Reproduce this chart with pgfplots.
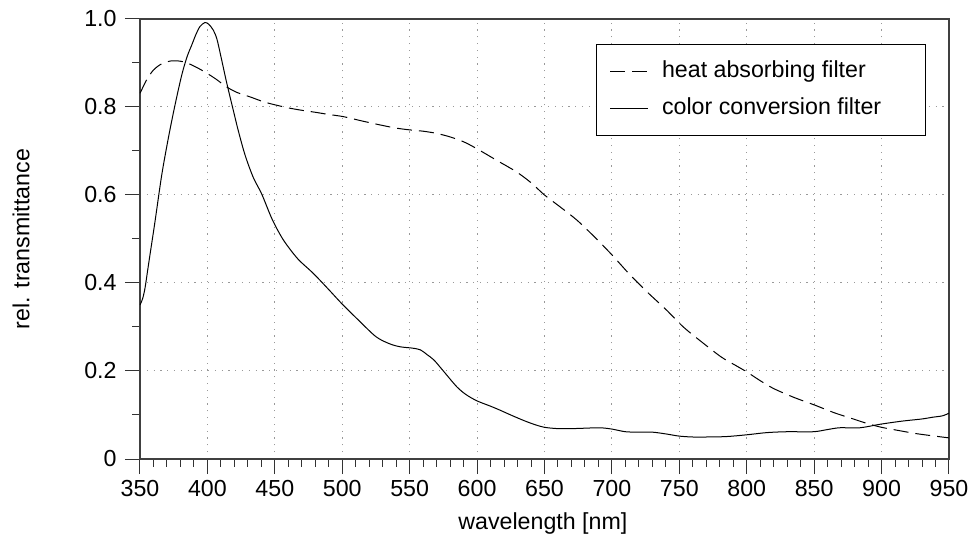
\documentclass[border=0pt]{standalone}
\usepackage{pgfplots}
\pgfplotsset{compat=1.18}
\usepackage{fontspec}
\setmainfont{Liberation Sans}

\begin{document}
\fontsize{11.6bp}{13.9bp}\selectfont
\begin{tikzpicture}
\begin{axis}[
  scale only axis,
  width=404.5bp, height=220bp,
  xmin=350, xmax=950, ymin=0, ymax=1,
  xtick={350,400,...,950},
  ytick={0,0.2,0.4,0.6,0.8,1.0},
  yticklabels={0,0.2,0.4,0.6,0.8,1.0},
  minor x tick num=4,
  minor y tick num=1,
  tick align=outside,
  tick pos=left,
  major tick length=7.5bp,
  minor tick length=3.8bp,
  every tick/.style={black!80, line width=0.5bp},
  axis line style={black!75, line width=0.6bp},
  grid=major,
  major grid style={gray!80, line width=0.5bp, dash pattern=on 0.6bp off 2.8bp},
  /pgf/number format/assume math mode=true,
  /pgf/number format/1000 sep={},
  xticklabel style={inner sep=0pt, anchor=north, yshift=-3bp},
  yticklabel style={inner sep=0pt, anchor=east, xshift=-4bp},
  xlabel={wavelength [nm]},
  ylabel={rel. transmittance},
  every axis x label/.style={at={(axis description cs:0.498,-0.1455)}, anchor=center},
  every axis y label/.style={at={(axis description cs:-0.1471,0.5)}, anchor=center, rotate=90},
  legend style={at={(axis description cs:0.9713,0.9432)}, anchor=north east,
    draw=black, line width=0.5bp, fill=white,
    inner xsep=6.7bp, inner ysep=7.8bp, row sep=7.8bp,
    nodes={inner sep=0pt, text height=8.5bp, text depth=2.5bp},
    /tikz/every odd column/.append style={column sep=6.7bp}},
  legend cell align=left,
  legend image code/.code={\draw[#1] (0bp,0bp) -- (19bp,0bp);},
]
\addplot[black, line width=0.5bp, dash pattern=on 7.5bp off 3.5bp, smooth, tension=0.5] coordinates {
(350,0.831) (355,0.862) (360,0.884) (366,0.898) (373.5,0.905) (380,0.904)
(385,0.900) (392,0.890) (399.5,0.877) (407,0.862) (414,0.846) (422,0.833)
(431.6,0.823) (441.5,0.812) (450,0.805) (460,0.798) (469,0.793) (480,0.788)
(490,0.783) (501,0.778) (515,0.768) (530,0.758) (540,0.752) (550,0.748)
(560,0.745) (570,0.740) (580,0.732) (590,0.721) (597,0.710) (605,0.696)
(615,0.678) (629,0.653) (640,0.628) (650,0.600) (662,0.572) (674,0.543)
(687,0.505) (700,0.464) (713,0.420) (726,0.380) (740,0.340) (753,0.300)
(767,0.265) (781,0.232) (791,0.214) (800,0.198) (810,0.178) (820,0.160)
(835,0.140) (850,0.123) (865,0.105) (877,0.093) (889,0.081) (900,0.072)
(914,0.064) (925,0.058) (937,0.053) (950,0.048)
};
\addlegendentry{\makebox[124.9bp][l]{heat absorbing filter}}
\addplot[black, line width=0.5bp, smooth, tension=0.5] coordinates {
(350,0.350) (352,0.365) (353.7,0.388) (355.5,0.425) (357.4,0.464) (361.1,0.539)
(366.1,0.645) (371,0.729) (376,0.805) (381,0.873) (385,0.915) (388.4,0.941)
(391.5,0.965) (394.5,0.983) (398.2,0.992) (401,0.988) (404.3,0.975) (407,0.955)
(410,0.915) (414.3,0.855) (419,0.795) (423,0.745) (428,0.690) (434,0.640)
(440.3,0.602) (448,0.545) (456.3,0.498) (467,0.455) (478.5,0.422) (490,0.385)
(500,0.352) (511.9,0.316) (525,0.278) (535,0.262) (543,0.255) (552,0.252)
(558,0.248) (563,0.237) (568,0.225) (575,0.200) (585,0.164) (592,0.146)
(600,0.132) (610,0.120) (617,0.111) (625,0.100) (635,0.087) (643,0.078)
(650,0.072) (660,0.069) (670,0.069) (680,0.070) (691,0.071) (700,0.068)
(710,0.062) (720,0.061) (730,0.061) (740,0.057) (750,0.052) (760,0.050)
(770,0.050) (785,0.051) (800,0.055) (815,0.060) (830,0.062) (849.5,0.062)
(860,0.067) (869,0.071) (884,0.071) (899,0.079) (915,0.086) (930,0.091)
(938,0.095) (945,0.098) (950,0.104)
};
\addlegendentry{\makebox[124.9bp][l]{color conversion filter}}
\end{axis}
\pgfresetboundingbox
\path[use as bounding box] (-70bp,-41bp) rectangle (415.5bp,229.5bp);
\end{tikzpicture}
\end{document}
